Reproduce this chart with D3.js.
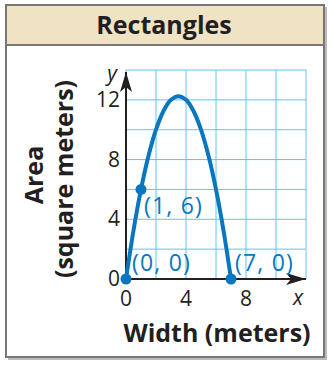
<!DOCTYPE html>
<html>
<head>
<meta charset="utf-8">
<script src="https://cdn.jsdelivr.net/npm/d3@7"></script>
<style>
  body { margin: 0; background: #fff; }
  svg { display: block; font-family: "Open Sans", "Noto Sans", sans-serif; }
</style>
</head>
<body>
<svg id="chart" width="330" height="365"></svg>
<script>
// width (m) and area (m^2)
const widths = [0, 0.5, 1, 1.5, 2, 2.5, 3, 3.5, 4, 4.5, 5, 5.5, 6, 6.5, 7];
const areas = [0, 3.25, 6, 8.25, 10, 11.25, 12, 12.25, 12, 11.25, 10, 8.25, 6, 3.25, 0];
const marked = [[0, 0], [1, 6], [7, 0]];
const markLabels = ["(0, 0)", "(1, 6)", "(7, 0)"];
const xTicks = [0, 4, 8];
const yTicks = [0, 4, 8, 12];

const blue = "#0877c0";
const ink = "#231f20";
const svg = d3.select("#chart");

// frame with shadow
svg.append("rect").attr("x", 8).attr("y", 7).attr("width", 319).attr("height", 353).attr("fill", "#bbb");
svg.append("rect").attr("x", 6).attr("y", 5).attr("width", 318).attr("height", 352)
    .attr("fill", "#fff").attr("stroke", "#777").attr("stroke-width", 2);
svg.append("rect").attr("x", 6).attr("y", 5).attr("width", 318).attr("height", 40)
    .attr("fill", "#efe3c4").attr("stroke", "#777").attr("stroke-width", 2);
svg.append("text").attr("x", 164).attr("y", 34).attr("text-anchor", "middle")
    .attr("font-size", 25).attr("font-weight", "bold").attr("fill", ink).text("Rectangles");

const x = d3.scaleLinear().domain([0, 12]).range([126, 306]);
const y = d3.scaleLinear().domain([0, 14]).range([279, 70]);

// grid
const grid = svg.append("g").attr("stroke", "#5cc6f0").attr("stroke-width", 1);
grid.selectAll(".v").data(d3.range(0, 13, 2)).enter().append("line")
    .attr("x1", d => x(d)).attr("x2", d => x(d)).attr("y1", y(0)).attr("y2", y(14));
grid.selectAll(".h").data(d3.range(0, 15, 2)).enter().append("line")
    .attr("y1", d => y(d)).attr("y2", d => y(d)).attr("x1", x(0)).attr("x2", x(12));

// axes with arrows
svg.append("defs").append("marker").attr("id", "arr")
    .attr("viewBox", "0 0 20 12").attr("refX", 20).attr("refY", 6)
    .attr("markerWidth", 20).attr("markerHeight", 12).attr("markerUnits", "userSpaceOnUse")
    .attr("orient", "auto")
    .append("path").attr("d", "M0,0 L20,6 L0,12 L5,6 Z").attr("fill", ink);
svg.append("line").attr("x1", x(0)).attr("y1", y(0)).attr("x2", 306).attr("y2", y(0))
    .attr("stroke", ink).attr("stroke-width", 2).attr("marker-end", "url(#arr)");
svg.append("line").attr("x1", x(0)).attr("y1", y(0)).attr("x2", x(0)).attr("y2", 72)
    .attr("stroke", ink).attr("stroke-width", 2).attr("marker-end", "url(#arr)");

svg.append("text").attr("x", 112).attr("y", 81).attr("font-size", 21).attr("font-style", "italic")
    .attr("text-anchor", "middle").attr("fill", ink).text("y");
svg.append("text").attr("x", 298).attr("y", 305).attr("font-size", 21).attr("font-style", "italic")
    .attr("text-anchor", "middle").attr("fill", ink).text("x");

svg.selectAll(".yt").data(yTicks).enter().append("text")
    .attr("x", 120).attr("y", d => y(d) + 7).attr("text-anchor", "end")
    .attr("font-size", 21).attr("fill", ink).text(d => d);
svg.selectAll(".xt").data(xTicks).enter().append("text")
    .attr("x", d => x(d)).attr("y", 306).attr("text-anchor", "middle")
    .attr("font-size", 21).attr("fill", ink).text(d => d);

// curve
const line = d3.line().x((d, i) => x(widths[i])).y(d => y(d)).curve(d3.curveCatmullRom);
svg.append("path").datum(areas).attr("d", line)
    .attr("fill", "none").attr("stroke", blue).attr("stroke-width", 4);

svg.selectAll(".pt").data(marked).enter().append("circle")
    .attr("cx", d => x(d[0])).attr("cy", d => y(d[1])).attr("r", 5.5).attr("fill", blue);

const labelPos = [[132, 271], [144, 214], [235, 271]];
svg.selectAll(".pl").data(markLabels).enter().append("text")
    .attr("x", (d, i) => labelPos[i][0]).attr("y", (d, i) => labelPos[i][1])
    .attr("font-size", 23).attr("letter-spacing", 1.2).attr("fill", blue).text(d => d);

// axis titles
svg.append("text").attr("transform", "translate(43,175) rotate(-90)")
    .attr("text-anchor", "middle").attr("font-size", 25).attr("font-weight", "bold")
    .attr("fill", ink).text("Area");
svg.append("text").attr("transform", "translate(73,179) rotate(-90)")
    .attr("text-anchor", "middle").attr("font-size", 25).attr("font-weight", "bold")
    .attr("fill", ink).text("(square meters)");
svg.append("text").attr("x", 217).attr("y", 342).attr("text-anchor", "middle")
    .attr("font-size", 25).attr("font-weight", "bold").attr("fill", ink).text("Width (meters)");
</script>
</body>
</html>
